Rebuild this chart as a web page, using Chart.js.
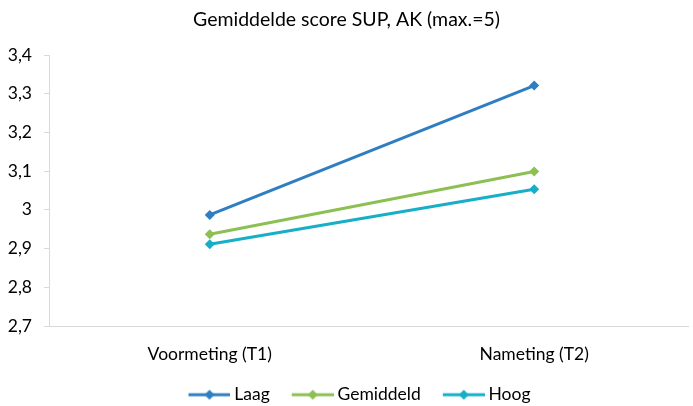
<!DOCTYPE html>
<html>
<head>
<meta charset="utf-8">
<script src="https://cdn.jsdelivr.net/npm/chart.js@4"></script>
<style>
html,body{margin:0;padding:0;background:#fff;overflow:hidden;}
#wrap{width:693px;height:406px;}
</style>
</head>
<body>
<div id="wrap"><canvas id="c" width="693" height="406"></canvas></div>
<script>
const categories = ['Voormeting (T1)', 'Nameting (T2)'];
const seriesNames = ['Laag', 'Gemiddeld', 'Hoog'];
const laag = [2.987, 3.321];
const gemiddeld = [2.937, 3.099];
const hoog = [2.911, 3.053];
const yTicks = [2.7, 2.8, 2.9, 3.0, 3.1, 3.2, 3.3, 3.4];
const colors = ['#2E7EC1', '#8DC053', '#17AFC7'];

const FONT = 'Lato, "Open Sans", sans-serif';

// legend icon: line with diamond, with 7px transparent margin on the left
function legendIcon(color) {
  const c = document.createElement('canvas');
  c.width = 49; c.height = 12;
  const x = c.getContext('2d');
  const o = 7;
  x.strokeStyle = color; x.lineWidth = 3;
  x.beginPath(); x.moveTo(o, 6); x.lineTo(o + 42, 6); x.stroke();
  x.fillStyle = color;
  x.beginPath(); x.moveTo(o + 21, 1); x.lineTo(o + 26, 6); x.lineTo(o + 21, 11); x.lineTo(o + 16, 6); x.closePath(); x.fill();
  return c;
}
const icons = colors.map(legendIcon);

const allSeries = [laag, gemiddeld, hoog];
const datasets = allSeries.map((vals, i) => ({
  label: seriesNames[i],
  data: vals.map((v, j) => ({x: j, y: v})),
  borderColor: colors[i],
  backgroundColor: colors[i],
  borderWidth: 3,
  pointStyle: 'rectRot',
  pointRadius: 5,
  pointHoverRadius: 5,
  pointBorderWidth: 0,
  tension: 0
}));

const fmt = v => Number(v.toFixed(1)).toString().replace('.', ',');

// shift the legend block slightly right, as in the reference
const legendShift = {
  id: 'legendShift',
  afterLayout(chart) {
    if (chart.legend) { chart.legend.left += 12; chart.legend.right += 12; }
  }
};

new Chart(document.getElementById('c'), {
  type: 'line',
  data: { datasets },
  plugins: [legendShift],
  options: {
    responsive: false,
    animation: false,
    layout: { padding: { left: 0, right: 0, top: 0, bottom: 0 } },
    plugins: {
      tooltip: { enabled: false },
      title: {
        display: true,
        text: 'Gemiddelde score SUP, AK (max.=5)',
        color: '#000',
        font: { family: FONT, size: 19.5, weight: 'normal' },
        padding: { top: 8, bottom: 23.6 }
      },
      legend: {
        position: 'bottom',
        maxHeight: 40,
        labels: {
          usePointStyle: true,
          pointStyleWidth: 39,
          boxHeight: 12,
          padding: 20,
          color: '#000',
          font: { family: FONT, size: 17.5 },
          generateLabels: (chart) => chart.data.datasets.map((ds, i) => ({
            text: ds.label,
            pointStyle: icons[i],
            fillStyle: colors[i],
            strokeStyle: colors[i],
            lineWidth: 0,
            hidden: false,
            datasetIndex: i,
            fontColor: '#000'
          }))
        }
      }
    },
    scales: {
      x: {
        type: 'linear',
        min: -0.4954,
        max: 1.474,
        afterBuildTicks: (s) => { s.ticks = categories.map((c, i) => ({ value: i })); },
        afterFit: (s) => { s.height = 40; },
        ticks: {
          callback: (v) => categories[v] !== undefined ? categories[v] : '',
          color: '#000',
          font: { family: FONT, size: 17.5 },
          padding: 18,
          maxRotation: 0,
          autoSkip: false
        },
        grid: { display: false, drawTicks: false },
        border: { display: true, color: '#D9D9D9', width: 1 }
      },
      y: {
        min: 2.7,
        max: 3.4,
        afterBuildTicks: (s) => { s.ticks = yTicks.map(v => ({ value: v })); },
        afterFit: (s) => { s.width = 49; },
        ticks: {
          callback: (v) => fmt(v),
          color: '#000',
          font: { family: FONT, size: 17.5 },
          padding: 12
        },
        grid: { drawOnChartArea: false, drawTicks: true, tickLength: 5, color: '#D9D9D9' },
        border: { display: true, color: '#D9D9D9', width: 1 }
      }
    }
  }
});
</script>
</body>
</html>
